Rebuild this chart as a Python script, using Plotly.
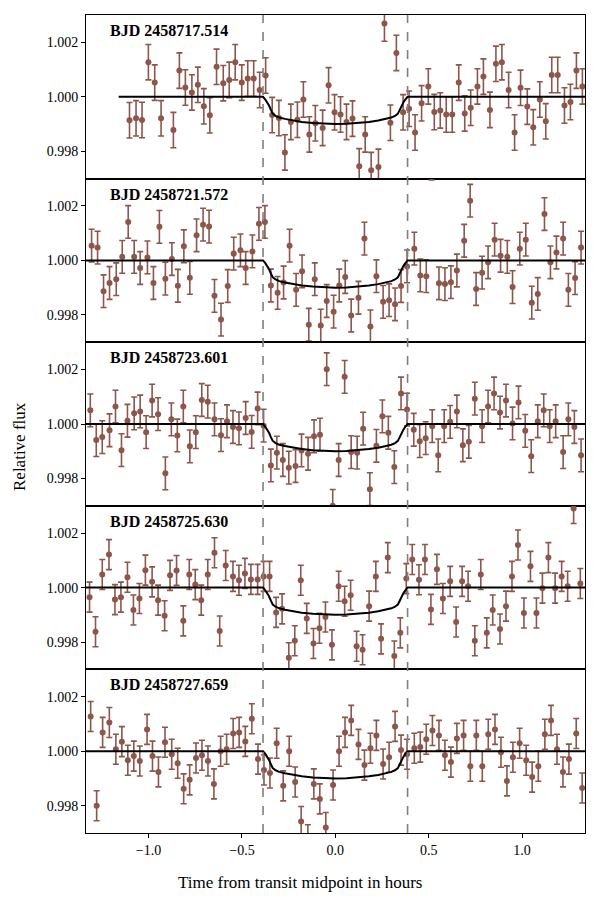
"""Five stacked transit light curves with a shared transit model - Plotly."""

import plotly.graph_objects as go
from plotly.subplots import make_subplots

# epochs (BJD of mid-transit)
epochs = ["2458717.514", "2458721.572", "2458723.601", "2458725.630", "2458727.659"]

# time from mid-transit (hours) and relative flux per night
t1 = [-1.102, -1.067, -1.035, -1.001, -0.967, -0.933, -0.867, -0.835, -0.803, -0.768,
      -0.736, -0.704, -0.672, -0.636, -0.600, -0.568, -0.536, -0.501, -0.469, -0.437,
      -0.405, -0.373, -0.338, -0.302, -0.270, -0.238, -0.203, -0.171, -0.139, -0.107,
      -0.068, -0.036, -0.004, 0.028, 0.060, 0.092, 0.128, 0.160, 0.192, 0.231,
      0.263, 0.295, 0.327, 0.363, 0.395, 0.427, 0.462, 0.498, 0.530, 0.562,
      0.594, 0.626, 0.661, 0.693, 0.725, 0.761, 0.793, 0.828, 0.860, 0.892,
      0.928, 0.960, 0.992, 1.028, 1.060, 1.095, 1.127, 1.159, 1.191, 1.227,
      1.259, 1.291, 1.323]
f1 = [0.99914, 0.99921, 0.99915, 1.00127, 1.00052, 0.99921, 0.99878, 1.00096, 1.00034, 1.00016,
      1.00044, 0.99965, 0.99932, 1.00110, 1.00050, 1.00062, 1.00127, 1.00052, 1.00067, 1.00067,
      1.00025, 1.00078, 0.99933, 0.99922, 0.99796, 0.99908, 0.99916, 0.99990, 0.99862, 0.99903,
      0.99886, 1.00042, 0.99943, 0.99935, 0.99908, 0.99920, 0.99745, 0.99862, 0.99731, 0.99743,
      1.00269, 0.99905, 1.00161, 0.99943, 0.99956, 0.99869, 0.99976, 1.00038, 0.99944, 0.99950,
      0.99935, 0.99935, 1.00052, 0.99939, 0.99960, 1.00038, 1.00074, 0.99952, 1.00121, 1.00127,
      1.00025, 0.99869, 1.00033, 0.99964, 0.99888, 0.99990, 0.99910, 1.00080, 1.00080, 0.99968,
      0.99981, 1.00096, 1.00038]

t2 = [-1.305, -1.273, -1.241, -1.209, -1.173, -1.141, -1.109, -1.077, -1.045, -1.006,
      -0.974, -0.942, -0.910, -0.875, -0.843, -0.811, -0.779, -0.743, -0.708, -0.676,
      -0.647, -0.612, -0.576, -0.544, -0.508, -0.480, -0.444, -0.409, -0.377, -0.345,
      -0.309, -0.277, -0.245, -0.210, -0.178, -0.142, -0.110, -0.078, -0.046, -0.009,
      0.021, 0.053, 0.085, 0.124, 0.156, 0.188, 0.220, 0.256, 0.288, 0.320,
      0.352, 0.384, 0.423, 0.455, 0.487, 0.516, 0.555, 0.587, 0.619, 0.651,
      0.690, 0.722, 0.754, 0.786, 0.818, 0.853, 0.885, 0.921, 0.949, 0.988,
      1.020, 1.052, 1.084, 1.120, 1.152, 1.184, 1.220, 1.248, 1.284, 1.316]
f2 = [1.00054, 1.00047, 0.99887, 0.99917, 0.99931, 1.00013, 1.00141, 1.00013, 0.99972, 1.00011,
      0.99917, 1.00123, 0.99933, 1.00005, 0.99907, 1.00052, 0.99936, 1.00092, 1.00131, 1.00124,
      0.99870, 0.99783, 0.99906, 1.00025, 1.00037, 0.99972, 1.00033, 1.00134, 1.00141, 0.99908,
      0.99881, 0.99919, 1.00054, 0.99892, 0.99960, 0.99764, 0.99931, 0.99761, 0.99851, 0.99812,
      0.99908, 0.99939, 0.99798, 0.99863, 1.00080, 0.99758, 0.99942, 0.99848, 0.99854, 0.99839,
      0.99906, 0.99978, 1.00043, 0.99945, 0.99942, 1.00355, 0.99916, 0.99913, 0.99920, 0.99963,
      1.00072, 1.00219, 0.99895, 0.99955, 0.99993, 1.00076, 1.00017, 1.00013, 0.99902, 1.00043,
      1.00076, 0.99845, 0.99877, 1.00170, 0.99993, 1.00029, 1.00080, 0.99892, 0.99935, 1.00047]

t3 = [-1.312, -1.280, -1.248, -1.209, -1.177, -1.145, -1.113, -1.077, -1.045, -1.013,
      -0.981, -0.949, -0.910, -0.878, -0.846, -0.814, -0.779, -0.747, -0.715, -0.683,
      -0.647, -0.612, -0.580, -0.548, -0.516, -0.480, -0.448, -0.416, -0.384, -0.345,
      -0.313, -0.281, -0.249, -0.213, -0.181, -0.146, -0.114, -0.082, -0.046, -0.014,
      0.018, 0.050, 0.085, 0.117, 0.149, 0.185, 0.220, 0.252, 0.284, 0.316,
      0.352, 0.384, 0.420, 0.452, 0.484, 0.519, 0.551, 0.583, 0.615, 0.651,
      0.683, 0.715, 0.747, 0.786, 0.818, 0.850, 0.882, 0.914, 0.949, 0.981,
      1.017, 1.049, 1.084, 1.116, 1.148, 1.180, 1.220, 1.248, 1.280, 1.316]
f3 = [1.00050, 0.99941, 0.99952, 0.99977, 1.00064, 0.99904, 1.00012, 1.00039, 1.00046, 0.99970,
      1.00086, 1.00036, 0.99819, 1.00017, 0.99958, 1.00064, 0.99918, 0.99970, 1.00088, 1.00082,
      1.00017, 0.99959, 1.00010, 0.99989, 0.99984, 1.00022, 0.99971, 1.00057, 0.99994, 0.99848,
      0.99895, 0.99868, 0.99840, 0.99846, 0.99903, 0.99891, 0.99955, 0.99961, 1.00201, 0.99700,
      0.99868, 1.00173, 0.99897, 0.99895, 0.99983, 0.99761, 0.99920, 1.00028, 0.99968, 0.99842,
      1.00112, 1.00053, 0.99979, 0.99937, 0.99948, 0.99992, 0.99885, 0.99992, 1.00008, 1.00046,
      0.99922, 0.99935, 1.00093, 0.99992, 1.00064, 1.00112, 1.00042, 1.00086, 1.00002, 1.00079,
      0.99975, 0.99882, 1.00010, 1.00050, 0.99992, 1.00010, 0.99897, 1.00017, 0.99989, 0.99885]

t4 = [-1.316, -1.284, -1.248, -1.212, -1.180, -1.148, -1.113, -1.081, -1.049, -1.017,
      -0.981, -0.949, -0.914, -0.885, -0.850, -0.814, -0.782, -0.750, -0.718, -0.683,
      -0.647, -0.619, -0.587, -0.548, -0.516, -0.484, -0.452, -0.416, -0.384, -0.352,
      -0.317, -0.285, -0.249, -0.217, -0.185, -0.153, -0.117, -0.085, -0.053, -0.018,
      0.018, 0.050, 0.082, 0.114, 0.146, 0.181, 0.217, 0.245, 0.281, 0.316,
      0.348, 0.380, 0.412, 0.448, 0.480, 0.512, 0.544, 0.576, 0.615, 0.647,
      0.679, 0.711, 0.747, 0.779, 0.811, 0.843, 0.882, 0.914, 0.946, 0.978,
      1.010, 1.045, 1.077, 1.109, 1.141, 1.177, 1.212, 1.244, 1.276, 1.312]
f4 = [0.99965, 0.99838, 1.00048, 1.00121, 0.99956, 0.99965, 1.00038, 0.99918, 0.99960, 1.00064,
      1.00021, 0.99954, 0.99897, 1.00045, 1.00063, 0.99878, 1.00048, 1.00011, 0.99954, 1.00048,
      1.00128, 0.99841, 1.00081, 1.00041, 1.00027, 1.00052, 1.00030, 1.00030, 1.00041, 1.00041,
      0.99909, 0.99922, 0.99743, 0.99805, 1.00027, 0.99887, 0.99795, 0.99851, 0.99892, 0.99790,
      1.00005, 0.99950, 0.99972, 0.99785, 0.99772, 0.99932, 1.00041, 0.99812, 1.00110, 0.99749,
      0.99834, 1.00033, 1.00103, 1.00029, 1.00103, 0.99920, 1.00067, 0.99960, 1.00023, 0.99874,
      1.00023, 1.00005, 0.99805, 1.00048, 0.99834, 0.99918, 0.99848, 0.99932, 1.00041, 1.00156,
      0.99907, 1.00078, 0.99907, 0.99998, 1.00110, 0.99998, 1.00041, 1.00005, 1.00290, 1.00015]

t5 = [-1.310, -1.278, -1.246, -1.210, -1.175, -1.143, -1.111, -1.079, -1.047, -1.008,
      -0.979, -0.947, -0.912, -0.876, -0.844, -0.812, -0.780, -0.746, -0.714, -0.682,
      -0.650, -0.614, -0.582, -0.547, -0.515, -0.482, -0.447, -0.414, -0.382, -0.350,
      -0.314, -0.279, -0.247, -0.215, -0.183, -0.147, -0.115, -0.083, -0.051, -0.012,
      0.020, 0.052, 0.085, 0.124, 0.156, 0.188, 0.220, 0.256, 0.288, 0.320,
      0.352, 0.384, 0.423, 0.455, 0.487, 0.520, 0.555, 0.587, 0.619, 0.651,
      0.687, 0.723, 0.755, 0.787, 0.819, 0.855, 0.887, 0.919, 0.951, 0.987,
      1.022, 1.054, 1.087, 1.122, 1.155, 1.187, 1.219, 1.251, 1.290, 1.322]
f5 = [1.00127, 0.99800, 1.00069, 1.00105, 1.00007, 1.00035, 0.99967, 0.99982, 0.99964, 1.00080,
      0.99982, 0.99924, 1.00033, 0.99989, 0.99956, 0.99862, 0.99895, 0.99975, 0.99985, 0.99964,
      0.99880, 1.00000, 1.00007, 1.00065, 1.00069, 1.00036, 1.00119, 0.99971, 0.99931, 0.99920,
      1.00029, 0.99873, 1.00000, 0.99887, 0.99742, 0.99675, 0.99880, 0.99825, 0.99720, 0.99876,
      1.00000, 1.00069, 1.00113, 1.00025, 0.99949, 1.00011, 1.00058, 0.99953, 0.99978, 1.00091,
      1.00004, 0.99989, 1.00011, 1.00015, 1.00044, 1.00076, 1.00058, 0.99985, 0.99960, 1.00047,
      1.00058, 0.99945, 1.00058, 0.99945, 1.00062, 1.00080, 0.99996, 0.99891, 0.99978, 1.00029,
      0.99967, 0.99905, 0.99945, 1.00062, 1.00113, 1.00007, 0.99924, 0.99971, 1.00065, 0.99865]

# flux uncertainty per night
errors = [0.00065, 0.00060, 0.00060, 0.00055, 0.00055]

# transit model, flat outside the in-transit part
model_t = [-0.387, -0.375, -0.365, -0.355, -0.345, -0.335, -0.320, -0.300, -0.270, -0.230,
           -0.180, -0.120, -0.060, 0.000, 0.060, 0.120, 0.180, 0.230, 0.270, 0.300,
           0.320, 0.335, 0.345, 0.355, 0.365, 0.375, 0.387]
model_f = [1.00000, 0.99990, 0.99980, 0.99968, 0.99952, 0.99938, 0.99930, 0.99924, 0.99919, 0.99913,
           0.99908, 0.99904, 0.99901, 0.99900, 0.99901, 0.99904, 0.99908, 0.99913, 0.99919, 0.99924,
           0.99930, 0.99938, 0.99952, 0.99968, 0.99980, 0.99990, 1.00000]
model_start = [-1.16, -1.34, -1.34, -1.34, -1.34]
model_end = 1.34

# transit contact times (hours)
t_ingress = -0.387
t_egress = 0.387

times = [t1, t2, t3, t4, t5]
fluxes = [f1, f2, f3, f4, f5]

BROWN = '#8c564b'
FONT = 'Liberation Serif, Times New Roman, serif'
W, H = 600, 900
# the page body adds ~8px offset, so margins are shifted to land the axes
# at the reference pixel positions (plot area x 86..585, y 15..833)
OFF = 8
ML, MR, MT, MB = 86 - OFF, 15 + OFF, 15 - OFF, 67 + OFF

fig = make_subplots(rows=5, cols=1, shared_xaxes=True, vertical_spacing=0)

for i in range(5):
    row = i + 1
    fig.add_trace(go.Scatter(
        x=times[i], y=fluxes[i],
        mode='markers',
        marker=dict(color=BROWN, size=6),
        error_y=dict(type='constant', value=errors[i], color=BROWN, thickness=1.6, width=3),
        showlegend=False,
        hoverinfo='skip',
    ), row=row, col=1)

    mx = [model_start[i]] + model_t + [model_end]
    my = [1.0] + model_f + [1.0]
    fig.add_trace(go.Scatter(
        x=mx, y=my, mode='lines',
        line=dict(color='black', width=2),
        showlegend=False, hoverinfo='skip',
    ), row=row, col=1)

    suffix = '' if row == 1 else str(row)
    fig.add_annotation(
        xref=f'x{suffix} domain', yref=f'y{suffix} domain',
        x=0.045, y=0.97, xanchor='left', yanchor='top',
        text=f'<b>BJD {epochs[i]}</b>', showarrow=False,
        font=dict(family=FONT, size=16, color='black'),
    )

    fig.update_yaxes(
        range=[0.997, 1.003],
        tickvals=[0.998, 1.000, 1.002],
        ticktext=['0.998', '1.000', '1.002'],
        ticks='outside', ticklen=4, tickwidth=1, tickcolor='black',
        showline=True, mirror=True, linecolor='black', linewidth=1,
        showgrid=False, zeroline=False,
        tickfont=dict(family=FONT, size=14, color='black'),
        row=row, col=1,
    )
    fig.update_xaxes(
        range=[-1.335, 1.337],
        showline=True, mirror=True, linecolor='black', linewidth=1,
        showgrid=False, zeroline=False,
        ticks='outside' if row == 5 else '',
        showticklabels=(row == 5),
        tickvals=[-1.0, -0.5, 0.0, 0.5, 1.0],
        ticktext=['\u22121.0', '\u22120.5', '0.0', '0.5', '1.0'],
        ticklen=4, tickwidth=1, tickcolor='black',
        tickfont=dict(family=FONT, size=14, color='black'),
        row=row, col=1,
    )

# dashed contact lines through all panels
for tc in (t_ingress, t_egress):
    fig.add_shape(type='line', xref='x5', yref='paper', x0=tc, x1=tc, y0=0, y1=1,
                  line=dict(color='#7f7f7f', width=1.6, dash='dash'), layer='above')

# figure-level labels, positioned in reference window pixels
plot_left, plot_bottom = 86, 833
plot_w = W - ML - MR
plot_h = H - MT - MB
fig.add_annotation(
    xref='paper', yref='paper',
    x=(300 - plot_left) / plot_w, y=-(882 - plot_bottom) / plot_h,
    xanchor='center', yanchor='middle', showarrow=False,
    text='Time from transit midpoint in hours',
    font=dict(family=FONT, size=17, color='black'),
)
fig.add_annotation(
    xref='paper', yref='paper',
    x=-(plot_left - 19) / plot_w, y=(plot_bottom - 447) / plot_h,
    xanchor='center', yanchor='middle', showarrow=False, textangle=-90,
    text='Relative flux',
    font=dict(family=FONT, size=17, color='black'),
)

fig.update_layout(
    width=W, height=H,
    margin=dict(l=ML, r=MR, t=MT, b=MB),
    plot_bgcolor='white', paper_bgcolor='white',
    font=dict(family=FONT, color='black'),
)

fig.write_html("out.html")
